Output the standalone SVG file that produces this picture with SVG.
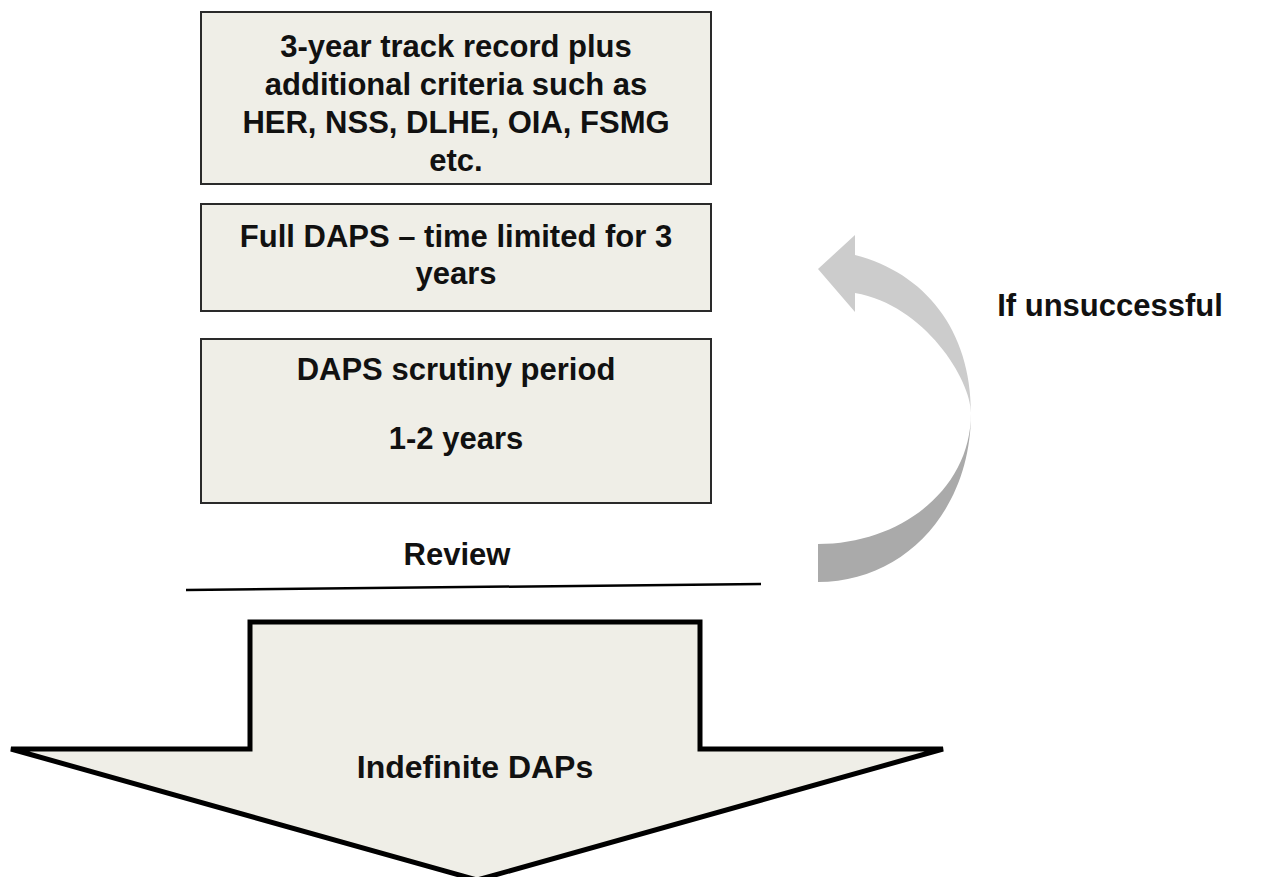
<svg xmlns="http://www.w3.org/2000/svg" width="1275" height="877" viewBox="0 0 1275 877">
<style>
.box{fill:#efeee7;stroke:#2a2a2a;stroke-width:2}
.t{font-family:"Liberation Sans",Arial,sans-serif;font-weight:bold;font-size:31px;fill:#111;text-anchor:middle}
</style>
<rect width="1275" height="877" fill="#fff"/>
<g id="node-criteria">
<rect class="box" x="201" y="12" width="510" height="172"/>
<text class="t" x="456" y="57">3-year track record plus</text>
<text class="t" x="456" y="95">additional criteria such as</text>
<text class="t" x="456" y="133">HER, NSS, DLHE, OIA, FSMG</text>
<text class="t" x="456" y="171">etc.</text>
</g>
<g id="node-full">
<rect class="box" x="201" y="204" width="510" height="107"/>
<text class="t" x="456" y="247">Full DAPS – time limited for 3</text>
<text class="t" x="456" y="284">years</text>
</g>
<g id="node-scrutiny">
<rect class="box" x="201" y="339" width="510" height="164"/>
<text class="t" x="456" y="380">DAPS scrutiny period</text>
<text class="t" x="456" y="449">1-2 years</text>
</g>
<g id="node-review">
<text class="t" x="457" y="565">Review</text>
</g>
<g id="connectors">
<line x1="186" y1="590" x2="761" y2="584" stroke="#000" stroke-width="2.5"/>
<path d="M855,255 C925,273 971,330 971,413 C971,380 925,305 855,293 L855,312 L818,269 L855,235 Z" fill="#cccccc"/>
<path d="M971,413 C971,510 905,582 818,582 L818,544 C900,544 971,490 971,413 Z" fill="#aaaaaa"/>
</g>
<g id="node-unsuccessful">
<text class="t" x="1110" y="316">If unsuccessful</text>
</g>
<g id="node-indefinite">
<path d="M250,622 L700,622 L700,749 L943,749 L477,880 L11,749 L250,749 Z" fill="#efeee7" stroke="#000" stroke-width="5" stroke-linejoin="miter"/>
<text class="t" x="475" y="778" style="font-size:32px">Indefinite DAPs</text>
</g>
</svg>
